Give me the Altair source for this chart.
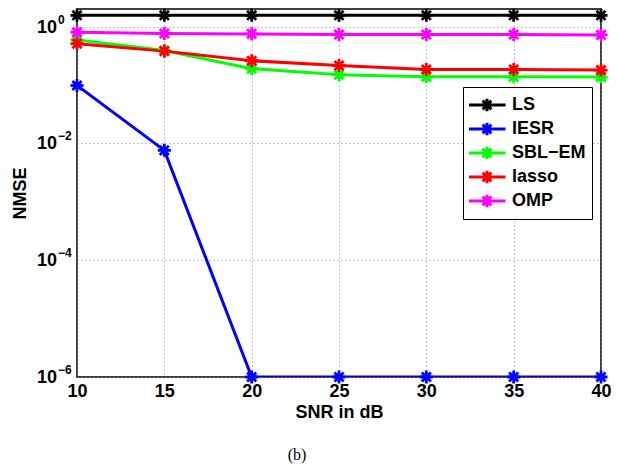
import altair as alt
import pandas as pd

snr = [10, 15, 20, 25, 30, 35, 40]
methods = ["LS", "IESR", "SBL-EM", "lasso", "OMP"]
colors = ["#000000", "#0000ff", "#00ff00", "#ff0000", "#ff00ff"]
ls = [1.56, 1.56, 1.56, 1.56, 1.56, 1.56, 1.56]
iesr = [0.098, 0.0076, 1e-6, 1e-6, 1e-6, 1e-6, 1e-6]
sbl = [0.59, 0.39, 0.19, 0.15, 0.138, 0.138, 0.137]
lasso = [0.51, 0.38, 0.26, 0.215, 0.184, 0.184, 0.18]
omp = [0.80, 0.76, 0.75, 0.73, 0.73, 0.73, 0.72]

ytick_values = [1e-6, 1e-4, 1e-2, 1]
ytick_exps = ["−6", "−4", "−2", "0"]

series = [ls, iesr, sbl, lasso, omp]
rows = []
for order, (m, vals) in enumerate(zip(methods, series)):
    for x, v in zip(snr, vals):
        rows.append({"SNR": x, "NMSE": v, "Method": m, "order": order})
df = pd.DataFrame(rows)
ydf = pd.DataFrame({"NMSE": ytick_values, "exp": ytick_exps, "base": ["10"] * 4})

star = "M-1,0L1,0M0,-1L0,1M-0.7,-0.7L0.7,0.7M-0.7,0.7L0.7,-0.7"
legend_sym = ("M-1.95,0L1.95,0M-0.65,0L0.65,0M0,-0.65L0,0.65"
              "M-0.46,-0.46L0.46,0.46M-0.46,0.46L0.46,-0.46")

FONT = "Liberation Sans"

x = alt.X("SNR:Q", scale=alt.Scale(domain=[10, 40], nice=False),
          axis=alt.Axis(title="SNR in dB", values=snr, grid=True, ticks=False,
                        labelPadding=5, titlePadding=3, labelFlush=False))
yscale = alt.Scale(type="log", domain=[1e-6, 2], nice=False)
y = alt.Y("NMSE:Q", scale=yscale,
          axis=alt.Axis(title="NMSE", values=ytick_values, labels=False,
                        grid=True, ticks=False, titlePadding=48))
color = alt.Color("Method:N", scale=alt.Scale(domain=methods, range=colors),
                  sort=methods,
                  legend=alt.Legend(title=None, orient="none", legendX=386, legendY=78,
                                    symbolType=legend_sym, symbolSize=361,
                                    symbolStrokeWidth=3, symbolFillColor="transparent",
                                    labelFont=FONT, labelFontSize=18,
                                    labelFontWeight="bold", labelColor="black",
                                    labelExpr="replace(datum.label, '-', '−')",
                                    strokeColor="black", fillColor="white",
                                    padding=6, rowPadding=0, symbolOffset=7,
                                    labelOffset=14, clipHeight=24))

base = alt.Chart(df).encode(x=x, y=y, color=color, order="order:Q", detail="Method:N")
lines = base.mark_line(strokeWidth=3, clip=True)
points = base.mark_point(shape=star, filled=False, size=170, strokeWidth=2.8,
                         opacity=1, clip=False)

ylab_base = alt.Chart(ydf).mark_text(
    align="right", baseline="middle", font=FONT, fontSize=18, fontWeight="bold",
    color="black", dy=1
).encode(x=alt.value(-20), y=alt.Y("NMSE:Q", scale=yscale), text="base:N")
ylab_exp = alt.Chart(ydf).mark_text(
    align="left", baseline="middle", font=FONT, fontSize=12, fontWeight="bold",
    color="black", dy=-7
).encode(x=alt.value(-19), y=alt.Y("NMSE:Q", scale=yscale), text="exp:N")

chart = alt.layer(lines, points, ylab_base, ylab_exp).properties(
    width=524, height=368,
    autosize=alt.AutoSizeParams(type="none"),
    padding={"left": 69, "top": 1, "right": 20, "bottom": 92},
    title=alt.TitleParams("(b)", orient="bottom", font="Liberation Serif",
                          fontSize=16, fontWeight="normal", dx=-42, offset=26,
                          color="black"),
).configure_view(stroke="black", strokeWidth=1.5).configure_axis(
    labelFont=FONT, labelFontSize=18, labelFontWeight="bold",
    labelColor="black", titleFont=FONT, titleFontSize=18,
    titleFontWeight="bold", titleColor="black", domain=False,
    gridColor="#888888", gridDash=[1, 3], gridWidth=1,
)

chart.save("out.html", embed_options={"renderer": "svg", "actions": False})
